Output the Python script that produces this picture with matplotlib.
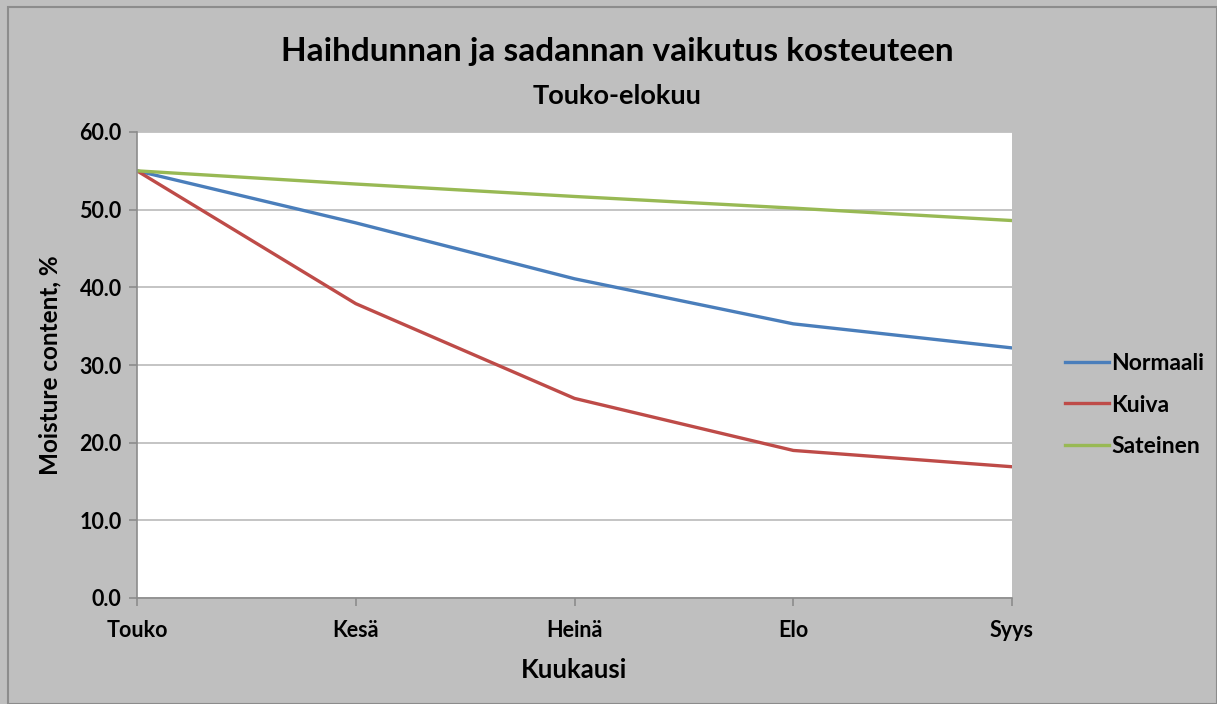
import matplotlib
matplotlib.use("Agg")
import matplotlib.pyplot as plt
from matplotlib.patches import Rectangle

months = ["Touko", "Kesä", "Heinä", "Elo", "Syys"]
normaali = [55.0, 48.3, 41.1, 35.3, 32.2]
kuiva = [55.0, 37.9, 25.7, 19.0, 16.9]
sateinen = [55.0, 53.3, 51.7, 50.2, 48.6]

plt.rcParams['font.family'] = ['Lato', 'DejaVu Sans']
plt.rcParams['font.weight'] = 'bold'

fig = plt.figure(figsize=(12.17, 7.04), dpi=100)
fig.patch.set_facecolor('#bfbfbf')
fig.patches.append(Rectangle((8/1217, 0), 1 - 8/1217, 1 - 7/704, transform=fig.transFigure,
                             fill=False, edgecolor='#8c8c8c', linewidth=1.5))

ax = fig.add_axes([137/1217, 1 - 598/704, (1012 - 137)/1217, (598 - 132)/704])
ax.set_facecolor('white')
x = list(range(len(months)))
ax.plot(x, normaali, color='#4a7ebb', lw=2.4, label='Normaali')
ax.plot(x, kuiva, color='#be4b48', lw=2.4, label='Kuiva')
ax.plot(x, sateinen, color='#98b954', lw=2.4, label='Sateinen')

ax.set_xlim(0, 4)
ax.set_ylim(0, 60)
ax.set_yticks(range(0, 61, 10))
ax.set_yticklabels([f"{v:.1f}" for v in range(0, 61, 10)])
ax.set_xticks(x)
ax.set_xticklabels(months)
ax.grid(axis='y', color='#bfbfbf', lw=1.3)
ax.set_axisbelow(True)
for s in ['top', 'right']:
    ax.spines[s].set_visible(False)
for s in ['left', 'bottom']:
    ax.spines[s].set_color('#8c8c8c')
    ax.spines[s].set_linewidth(1.2)
ax.tick_params(axis='both', colors='#8c8c8c', labelcolor='black', labelsize=15.5, length=6, width=1.2)
ax.tick_params(axis='x', pad=10)
ax.tick_params(axis='y', pad=5)
for lbl in ax.get_xticklabels() + ax.get_yticklabels():
    lbl.set_fontweight('bold')

ax.set_xlabel('Kuukausi', fontsize=18.5, fontweight='bold', labelpad=12)
ax.set_ylabel('Moisture content, %', fontsize=17.5, fontweight='bold', labelpad=13)

fig.text(617/1217, 1 - 52/704, 'Haihdunnan ja sadannan vaikutus kosteuteen', ha='center', va='center',
         fontsize=24, fontweight='bold')
fig.text(617/1217, 1 - 96/704, 'Touko-elokuu', ha='center', va='center', fontsize=19.5, fontweight='bold')

leg = fig.legend(loc='center left', bbox_to_anchor=(1044/1217, 1 - 405/704), frameon=False,
                 fontsize=16.5, handlelength=1.95, handletextpad=0.1, labelspacing=0.9)
for t in leg.get_texts():
    t.set_fontweight('bold')

fig.savefig('out.png', dpi=100, facecolor=fig.get_facecolor())
